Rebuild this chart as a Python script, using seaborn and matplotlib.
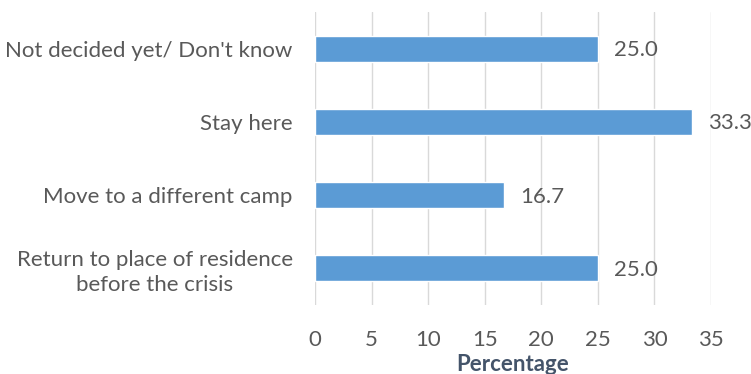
import matplotlib
matplotlib.use("Agg")
import matplotlib.pyplot as plt
import seaborn as sns
import pandas as pd

categories = [
    "Not decided yet/ Don't know",
    "Stay here",
    "Move to a different camp",
    "Return to place of residence\nbefore the crisis",
]
values = [25.0, 33.3, 16.7, 25.0]
x_ticks = [0, 5, 10, 15, 20, 25, 30, 35]

sns.set_theme(style="white")
plt.rcParams["font.family"] = ["Lato", "DejaVu Sans"]

df = pd.DataFrame({"category": categories, "value": values})

fig = plt.figure(figsize=(7.51, 3.74), dpi=100)
ax = fig.add_axes([0.4194, 0.1845, 0.9467 - 0.4194, 0.968 - 0.1845])

sns.barplot(data=df, x="value", y="category", orient="h", color="#5B9BD5",
            saturation=1, width=0.355, ax=ax, zorder=3)

ax.set_xlim(0, 35)
ax.set_ylim(3.5, -0.5)
ax.set_xticks(x_ticks)
ax.set_xticklabels([str(t) for t in x_ticks])
ax.grid(axis="x", color="#D9D9D9", linewidth=1, zorder=0)
ax.grid(axis="y", visible=False)
for s in ax.spines.values():
    s.set_visible(False)
ax.tick_params(axis="both", length=0, colors="#595959", labelsize=16)
ax.tick_params(axis="y", pad=16)
ax.tick_params(axis="x", pad=18)
for lbl in ax.get_yticklabels():
    lbl.set_multialignment("center")
    lbl.set_linespacing(1.3)
ax.set_ylabel("")
ax.set_xlabel("Percentage", fontsize=16, fontweight="bold", color="#44546A", labelpad=3)

for i, v in enumerate(values):
    ax.annotate(f"{v:.1f}", xy=(v, i), xytext=(12, -1), textcoords="offset points",
                va="center", ha="left", fontsize=16, color="#595959")

fig.savefig("out.png", dpi=100)
